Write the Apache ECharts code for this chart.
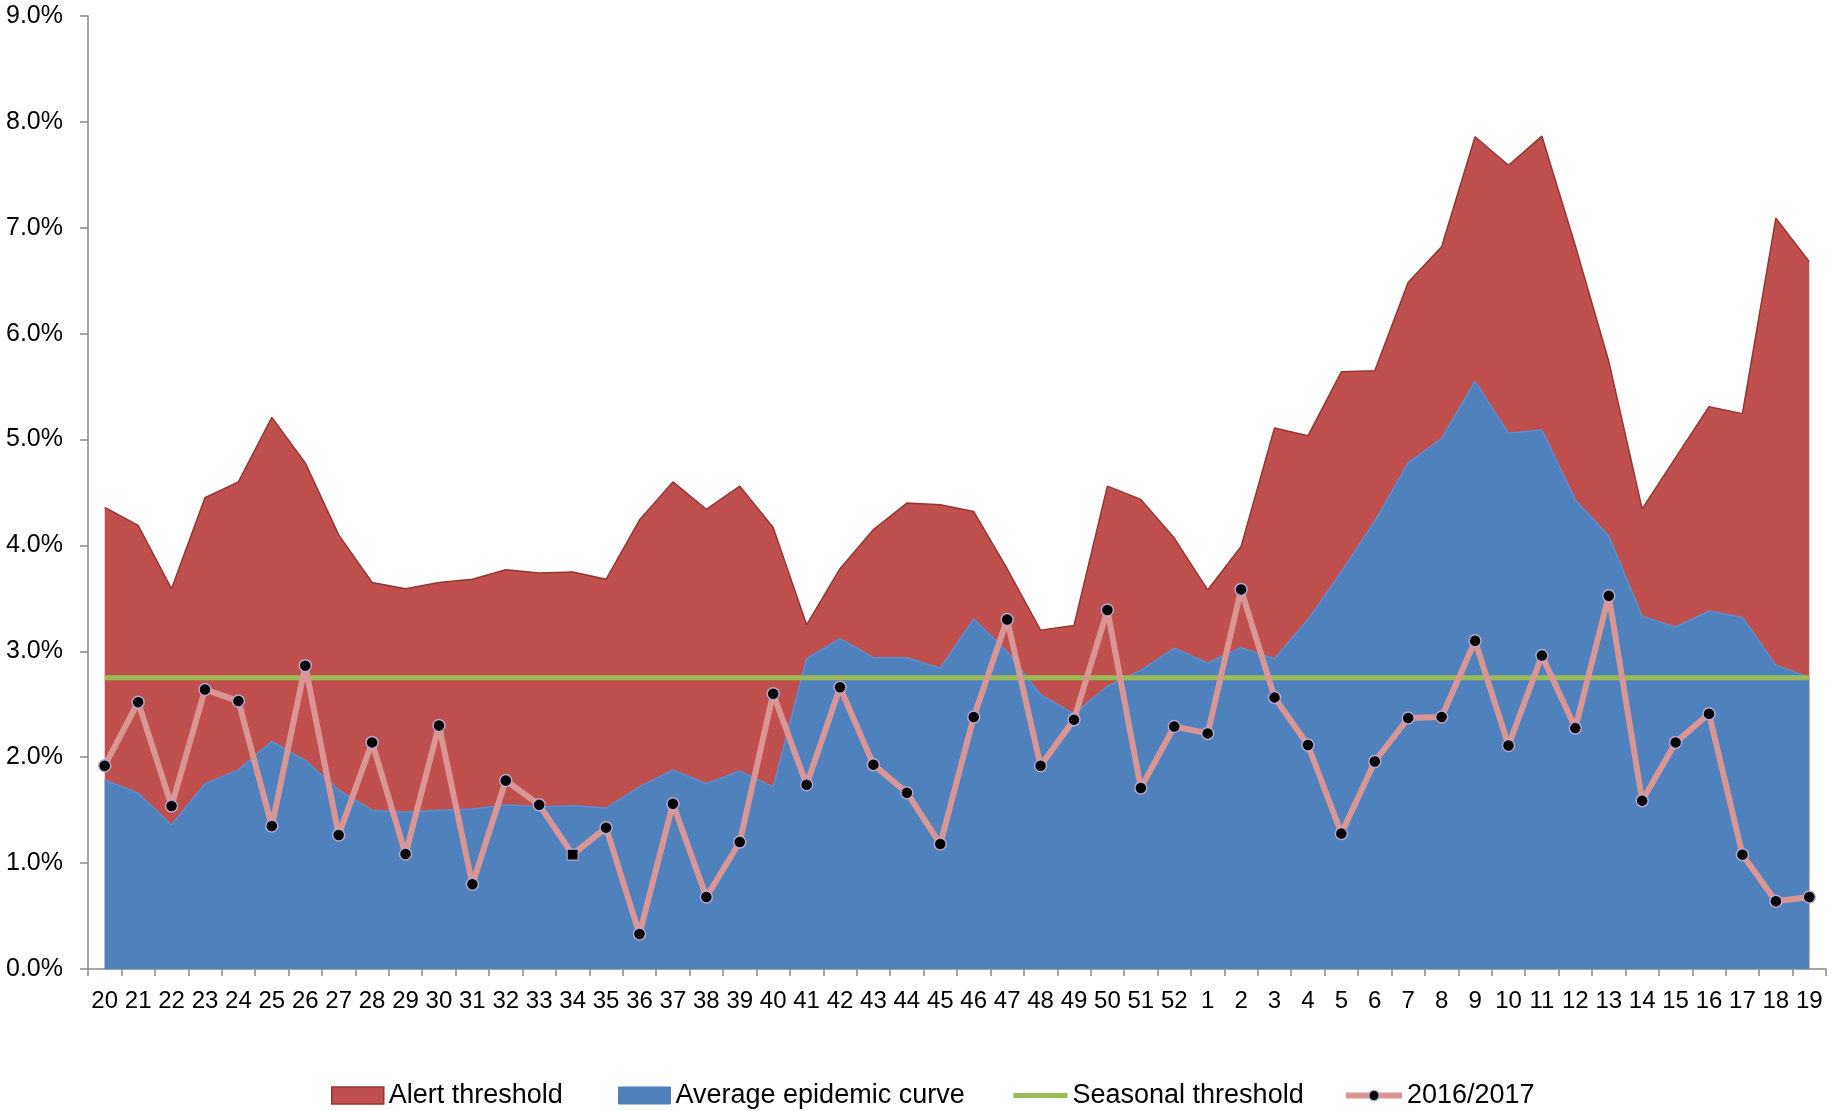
<!DOCTYPE html>
<html>
<head>
<meta charset="utf-8">
<script src="https://cdn.jsdelivr.net/npm/echarts@6/dist/echarts.min.js"></script>
<style>
html,body{margin:0;padding:0;background:#fff;}
#chart{width:1845px;height:1111px;}
</style>
</head>
<body>
<div id="chart"></div>
<script>
const categories = ['20','21','22','23','24','25','26','27','28','29','30','31','32','33','34','35','36','37','38','39','40','41','42','43','44','45','46','47','48','49','50','51','52','1','2','3','4','5','6','7','8','9','10','11','12','13','14','15','16','17','18','19'];

const alertThreshold = [4.36,4.19,3.59,4.45,4.60,5.21,4.78,4.10,3.65,3.59,3.65,3.68,3.77,3.74,3.75,3.68,
  4.24,4.60,4.34,4.56,4.17,3.25,3.78,4.15,4.40,4.385,4.32,3.78,3.20,3.245,4.56,4.435,4.07,3.58,
  3.99,5.11,5.035,5.64,5.65,6.485,6.82,7.86,7.59,7.865,6.83,5.74,4.345,4.83,5.31,5.245,7.09,6.68];

const averageCurve = [1.785,1.66,1.36,1.75,1.88,2.15,1.97,1.69,1.50,1.48,1.50,1.51,1.55,1.53,1.545,1.52,
  1.72,1.88,1.75,1.87,1.72,2.93,3.12,2.94,2.94,2.84,3.305,3.00,2.59,2.41,2.67,2.82,3.03,2.89,
  3.035,2.93,3.30,3.75,4.23,4.78,5.01,5.55,5.06,5.09,4.43,4.09,3.33,3.23,3.38,3.32,2.87,2.755];

const seasonalThreshold = 2.75;

const season2016 = [1.92,2.52,1.54,2.64,2.53,1.35,2.865,1.265,2.14,1.086,2.30,0.80,1.78,1.55,1.08,1.335,
  0.33,1.56,0.68,1.20,2.60,1.74,2.66,1.93,1.665,1.18,2.38,3.30,1.92,2.355,3.39,1.71,2.29,2.225,
  3.585,2.565,2.115,1.28,1.96,2.37,2.38,3.10,2.11,2.96,2.275,3.525,1.59,2.14,2.41,1.08,0.64,0.68];

const squareMarkerWeek = '34';

const yTickLabels = ['0.0%','1.0%','2.0%','3.0%','4.0%','5.0%','6.0%','7.0%','8.0%','9.0%'];

const FONT = 'Liberation Sans';
const chart = echarts.init(document.getElementById('chart'), null, {renderer:'canvas'});

const seriesNames = ['Alert threshold','Average epidemic curve','Seasonal threshold','2016/2017'];

function legendAt(left, item, w, h, extra){
  const l = {
    show: true, left: left, top: 1077, orient: 'horizontal',
    itemWidth: w, itemHeight: h, itemGap: 0,
    textStyle: {fontFamily: FONT, fontSize: 27, color: '#000'},
    selectedMode: false,
    data: [item]
  };
  return Object.assign(l, extra || {});
}

const option = {
  animation: false,
  backgroundColor: '#fff',
  grid: {left: 88, right: 19, top: 16, bottom: 142, containLabel: false},
  legend: [
    legendAt(326, {name: seriesNames[0], icon: 'rect', itemStyle: {color: '#C0504D', borderColor: '#943634', borderWidth: 1.5}}, 52, 17),
    legendAt(613, {name: seriesNames[1], icon: 'rect', itemStyle: {color: '#4F81BD', borderColor: '#4A7EBB', borderWidth: 1}}, 52, 17),
    legendAt(1006, {name: seriesNames[2]}, 54, 17, {lineStyle: {width: 5, color: '#9BBB59'}, itemStyle: {opacity: 0}}),
    legendAt(1338, {name: seriesNames[3]}, 56, 13, {lineStyle: {width: 6, color: '#D99694'}, itemStyle: {color: '#000', borderColor: '#B9A7D0', borderWidth: 1.5}})
  ],
  xAxis: {
    type: 'category',
    data: categories,
    boundaryGap: true,
    axisLine: {show: true, lineStyle: {color: '#868686', width: 1.5}},
    axisTick: {show: true, length: 7, lineStyle: {color: '#868686', width: 1.5}},
    axisLabel: {interval: 0, margin: 20, fontFamily: FONT, fontSize: 24, color: '#000'},
    splitLine: {show: false}
  },
  yAxis: {
    type: 'value',
    min: 0, max: 9, interval: 1,
    axisLine: {show: true, lineStyle: {color: '#868686', width: 1.5}},
    axisTick: {show: true, length: 8, lineStyle: {color: '#868686', width: 1.5}},
    axisLabel: {margin: 25, fontFamily: FONT, fontSize: 25, color: '#000',
      formatter: function(v){ return yTickLabels[Math.round(v)]; }},
    splitLine: {show: false}
  },
  series: [
    {
      name: seriesNames[0], type: 'line', data: alertThreshold,
      color: '#C0504D',
      symbol: 'none', smooth: false,
      lineStyle: {color: '#943634', width: 1.5},
      areaStyle: {color: '#C0504D', opacity: 1},
      z: 1
    },
    {
      name: seriesNames[1], type: 'line', data: averageCurve,
      color: '#4F81BD',
      symbol: 'none',
      lineStyle: {color: '#5B8FD4', width: 1.5},
      areaStyle: {color: '#4F81BD', opacity: 1},
      z: 2
    },
    {
      name: seriesNames[2], type: 'line',
      data: categories.map(function(){ return seasonalThreshold; }),
      color: '#9BBB59',
      symbol: 'none',
      lineStyle: {color: '#9BBB59', width: 5},
      z: 3
    },
    {
      name: seriesNames[3], type: 'line',
      data: season2016.map(function(v, i){
        return categories[i] === squareMarkerWeek ? {value: v, symbol: 'rect', symbolSize: 11, itemStyle: {color: '#000', borderColor: '#B9A7D0', borderWidth: 1.2}} : v;
      }),
      color: '#D99694',
      symbol: 'circle', symbolSize: 12, showSymbol: true, showAllSymbol: true,
      lineStyle: {color: '#D99694', width: 6},
      itemStyle: {color: '#000', borderColor: '#B9A7D0', borderWidth: 1.5},
      z: 4
    }
  ]
};
chart.setOption(option);
</script>
</body>
</html>
